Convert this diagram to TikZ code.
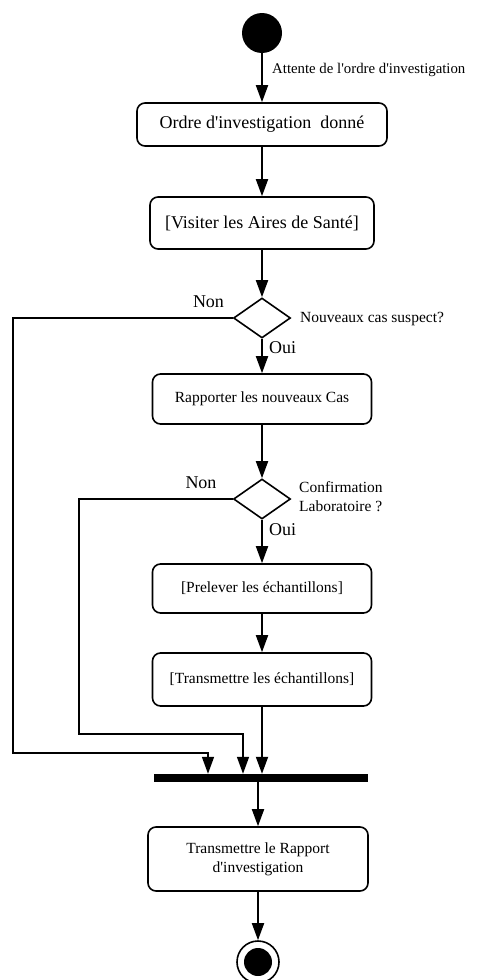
\documentclass[tikz,border=0pt]{standalone}
\usepackage{fontspec}
\setmainfont{Liberation Serif}[Ligatures=TeXOff]
\usetikzlibrary{arrows.meta,shapes.geometric}

\newcommand{\bigfont}{\fontsize{18}{21}\selectfont}
\newcommand{\midfont}{\fontsize{15.5}{19}\selectfont}
\newcommand{\tinyfont}{\fontsize{14.8}{18}\selectfont}

\begin{document}
\begin{tikzpicture}[x=1pt, y=-1pt,
    every node/.style={text=black},
    actbox/.style={draw, line width=1.6pt, rounded corners=8pt, align=center, inner sep=0pt},
    decision/.style={diamond, draw, line width=1.6pt, aspect=1.425, minimum width=57pt, minimum height=40pt, inner sep=0pt},
    lbl/.style={inner sep=0pt, align=left},
    flow/.style={line width=1.8pt, -{Triangle[length=17pt,width=12pt]}},
    loopflow/.style={line width=1.4pt, -{Triangle[length=17pt,width=12pt]}}]
\useasboundingbox (0,0) rectangle (477,980);

% Start and first activities
\node[circle, fill, minimum size=40pt, inner sep=0pt] (start) at (262,33) {};
\node[actbox, minimum width=250pt, minimum height=43pt, font=\bigfont] (order) at (262,124.5)
    {Ordre d'investigation\ \ donné};
\node[actbox, minimum width=224pt, minimum height=52pt, font=\bigfont] (visit) at (262,223)
    {[Visiter les Aires de Santé]};

% First decision
\node[decision] (suspect) at (262,318) {};
\node[actbox, minimum width=219pt, minimum height=50pt, font=\midfont] (report) at (262,399)
    {Rapporter les nouveaux Cas};

% Second decision
\node[decision] (lab) at (262,499) {};
\node[actbox, minimum width=219pt, minimum height=49pt, font=\midfont] (sample) at (262,588.5)
    {[Prelever les échantillons]};
\node[actbox, minimum width=219pt, minimum height=53pt, font=\midfont] (send) at (262,679.5)
    {[Transmettre les échantillons]};

% Join bar, report and end
\node[fill, minimum width=214pt, minimum height=8pt, inner sep=0pt] (join) at (261,778) {};
\node[actbox, minimum width=220pt, minimum height=64pt, font=\midfont] (final) at (258,859)
    {Transmettre le Rapport\\d'investigation};
\node[circle, draw, line width=1.6pt, minimum size=42pt, inner sep=0pt] (stop) at (258,962) {};
\node[circle, fill, minimum size=28pt, inner sep=0pt] (stopdot) at (258,962) {};

% Labels
\node[lbl, anchor=west, font=\tinyfont] (waitlbl) at (272,70) {Attente de l'ordre d'investigation};
\node[lbl, font=\bigfont] (non1) at (208.5,302) {Non};
\node[lbl, anchor=west, font=\midfont] (q1) at (300,319) {Nouveaux cas suspect?};
\node[lbl, anchor=west, font=\bigfont] (oui1) at (269,348) {Oui};
\node[lbl, font=\bigfont] (non2) at (201,483) {Non};
\node[lbl, anchor=west, font=\midfont] (q2) at (299,496.5) {Confirmation\\Laboratoire ?};
\node[lbl, anchor=west, font=\bigfont] (oui2) at (269,530) {Oui};

% Main flow
\draw[flow] (start) -- (order);
\draw[flow] (order) -- (visit);
\draw[flow] (visit) -- (suspect);
\draw[flow] (suspect) -- (report);
\draw[flow] (report) -- (lab);
\draw[flow] (lab) -- (sample);
\draw[flow] (sample) -- (send);
\draw[flow] (send) -- (send |- join.north);
\draw[flow] (join.south -| final.north) -- (final);
\draw[flow] (final) -- (stop);

% "Non" branches to the join bar
\coordinate (outerturn) at (13,753);
\coordinate (innerturn) at (79,734);
\draw[loopflow] (suspect.west) -| (outerturn) -| ([xshift=-53pt]join.north);
\draw[loopflow] (lab.west) -| (innerturn) -| ([xshift=-18pt]join.north);

\end{tikzpicture}
\end{document}
